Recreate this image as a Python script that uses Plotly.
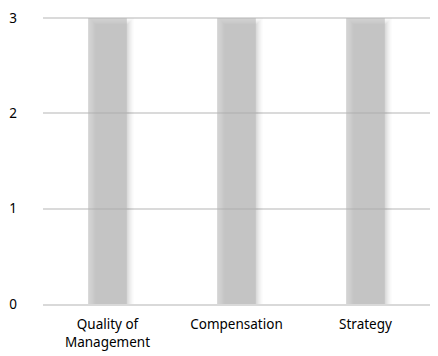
import plotly.graph_objects as go

categories = ["Quality of<br>Management", "Compensation", "Strategy"]
values = [3, 3, 3]
y_ticks = [0, 1, 2, 3]

Y_MAX = 3.02          # a little headroom so the top gridline is drawn
BAR_W = 0.30          # bar width in category units
PX_X = 1 / 129.0      # one pixel in category units
PX_Y = Y_MAX / 288.0  # one pixel in value units

fig = go.Figure()

# soft drop shadow: stacked translucent bars shifted right/down, growing outward
shadow_layers = [(0, 0.05), (1, 0.05), (2, 0.045), (3, 0.04), (4, 0.035), (5, 0.03), (6, 0.02)]
for grow, alpha in shadow_layers:
    fig.add_trace(go.Bar(
        x=categories,
        y=[v - (6 - grow) * PX_Y for v in values],
        width=BAR_W + 2 * grow * PX_X - 6 * PX_X,
        offset=-BAR_W / 2 + (7 - grow) * PX_X,
        marker=dict(color=f"rgba(120,120,120,{alpha})", line=dict(width=0)),
        hoverinfo="skip",
        showlegend=False,
    ))

fig.add_trace(go.Bar(
    x=categories,
    y=values,
    width=BAR_W,
    offset=-BAR_W / 2,
    marker=dict(color="rgba(182,182,182,0.6)", line=dict(width=0)),
    showlegend=False,
))

fig.update_layout(
    width=438,
    height=356,
    margin=dict(l=43, r=8, t=16, b=52),
    paper_bgcolor="white",
    plot_bgcolor="white",
    barmode="overlay",
    font=dict(family="Noto Sans, Open Sans, sans-serif", size=13.5, color="#000000"),
    xaxis=dict(
        showgrid=False,
        showline=True,
        linecolor="#d9d9d9",
        linewidth=1.5,
        ticks="",
        ticklabelstandoff=7,
        automargin=False,
        tickfont=dict(size=13.5, color="#000000"),
        fixedrange=True,
    ),
    yaxis=dict(
        range=[0, Y_MAX],
        tickvals=y_ticks,
        showgrid=True,
        gridcolor="#dadada",
        gridwidth=1.5,
        zeroline=False,
        showline=False,
        ticks="",
        ticklabelstandoff=25,
        automargin=False,
        tickfont=dict(size=13.5, color="#000000"),
        fixedrange=True,
    ),
)

fig.write_html("out.html")
